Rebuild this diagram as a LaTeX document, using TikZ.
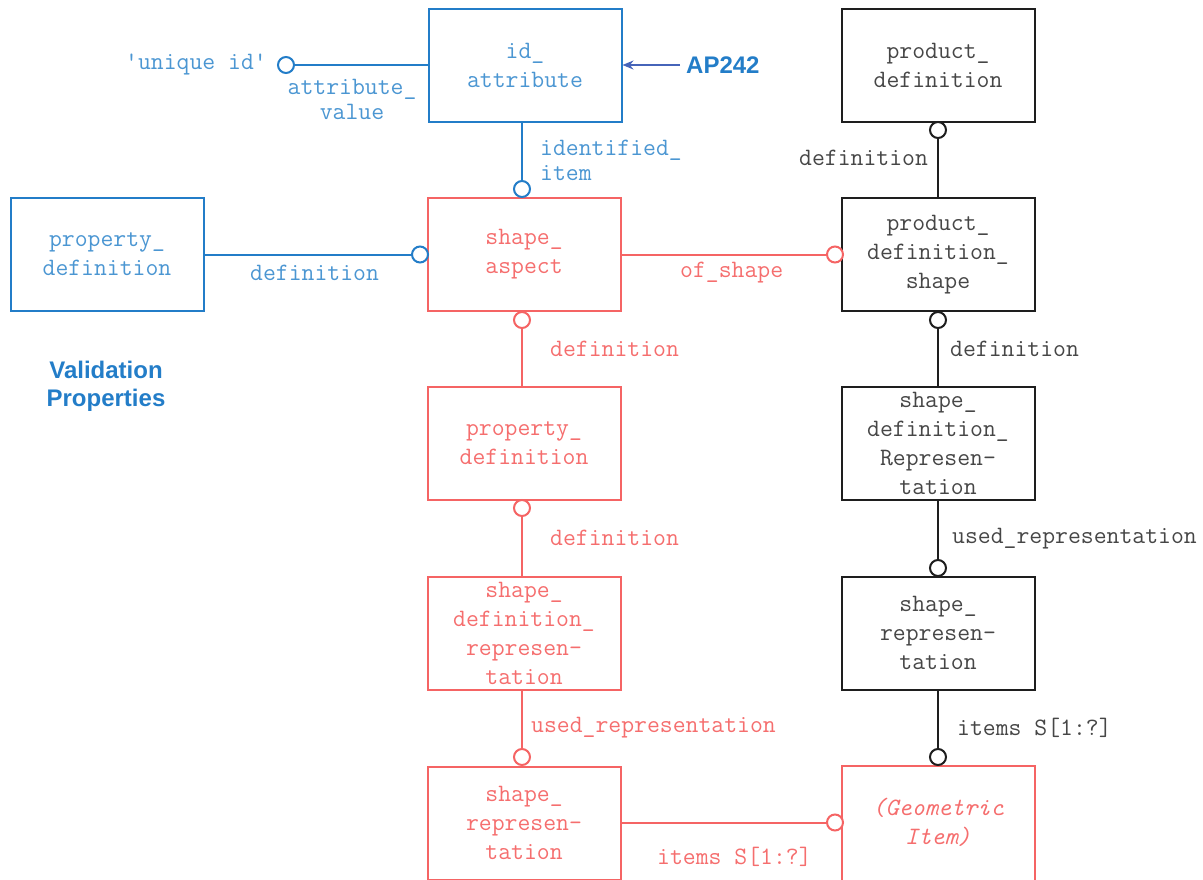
\documentclass[tikz,border=0pt]{standalone}
\usepackage{fontspec}
\setsansfont{Liberation Sans}
\usetikzlibrary{arrows.meta}
\definecolor{bline}{RGB}{35,125,200}
\definecolor{btext}{RGB}{75,150,210}
\definecolor{rline}{RGB}{245,100,100}
\definecolor{rtext}{RGB}{245,110,110}
\definecolor{kline}{RGB}{30,30,30}
\definecolor{ktext}{RGB}{70,70,70}
\definecolor{aline}{RGB}{70,100,185}
\tikzset{
  ent/.style={draw, line width=2pt, minimum width=193pt, minimum height=113pt, inner sep=0pt, align=center, font=\fontsize{25}{29}\selectfont\ttfamily},
  bluebox/.style={ent, draw=bline, text=btext},
  redbox/.style={ent, draw=rline, text=rtext},
  blkbox/.style={ent, draw=kline, text=ktext},
  ring/.style={circle, draw, line width=2pt, fill=white, minimum size=16pt, inner sep=0pt},
  lbl/.style={inner sep=0pt, font=\fontsize{25}{25}\selectfont\ttfamily},
  sans/.style={inner sep=0pt, align=center, font=\fontsize{24}{28}\selectfont\sffamily\bfseries, text=bline},
  conn/.style={line width=2pt}
}
\begin{document}
\begin{tikzpicture}[x=1pt,y=-1pt]
\useasboundingbox (0,0) rectangle (1203,879);
% boxes
\node[bluebox] (ida) at (525,65) {id\_\\attribute};
\node[blkbox] (pd) at (938,65) {product\_\\definition};
\node[bluebox] (bpd) at (107,254.5) {property\_\\definition};
\node[redbox] (sa) at (524,254.5) {shape\_\\aspect};
\node[blkbox] (pds) at (938,254.5) {product\_\\definition\_\\shape};
\node[redbox] (rpd) at (524,443.5) {property\_\\definition};
\node[blkbox] (sdr) at (938,443.5) {shape\_\\definition\_\\Represen-\\tation};
\node[redbox] (rsdr) at (524,633) {shape\_\\definition\_\\represen-\\tation};
\node[blkbox] (ksr) at (938,633) {shape\_\\represen-\\tation};
\node[redbox] (rsr) at (524,823) {shape\_\\represen-\\tation};
\node[redbox, minimum height=125pt] (gi) at (938,828.5) {};
\node[inner sep=0pt, align=center, text=rtext, font=\fontsize{25}{29}\selectfont\ttfamily\itshape] (git) at (938,822.5) {(Geometric\\Item)};
% rings
\node[ring, draw=bline] (c1) at (286,65) {};
\node[ring, draw=bline] (c2) at (522,189) {};
\node[ring, draw=bline] (c3) at (420,254.5) {};
\node[ring, draw=rline] (c4) at (835,254.5) {};
\node[ring, draw=kline] (c5) at (938,130) {};
\node[ring, draw=rline] (c6) at (522,320) {};
\node[ring, draw=kline] (c7) at (938,320) {};
\node[ring, draw=rline] (c8) at (522,508) {};
\node[ring, draw=kline] (c9) at (938,568) {};
\node[ring, draw=rline] (c10) at (522,757) {};
\node[ring, draw=kline] (c11) at (938,757) {};
\node[ring, draw=rline] (c12) at (835,822.5) {};
% connectors
\draw[conn, bline] (c1) -- (ida.west |- c1);
\draw[conn, bline] (ida.south -| c2) -- (c2);
\draw[conn, bline] (bpd.east) -- (c3);
\draw[conn, rline] (sa.east) -- (c4);
\draw[conn, kline] (c5) -- (pds.north);
\draw[conn, rline] (c6) -- (rpd.north -| c6);
\draw[conn, kline] (c7) -- (sdr.north);
\draw[conn, rline] (c8) -- (rsdr.north -| c8);
\draw[conn, kline] (sdr.south) -- (c9);
\draw[conn, rline] (rsdr.south -| c10) -- (c10);
\draw[conn, kline] (ksr.south) -- (c11);
\draw[conn, rline] (rsr.east |- c12) -- (c12);
\coordinate (apstart) at (680,65);
\draw[line width=1.6pt, aline, -{Stealth[length=11pt,width=9pt]}] (apstart) -- (ida.east);
% labels
\node[lbl, text=btext, anchor=east] (l1) at (267,65) {'unique id'};
\node[lbl, text=btext, align=center] (l2) at (352,99) {attribute\_\\value};
\node[lbl, text=btext, align=left, anchor=west] (l3) at (540,160) {identified\_\\item};
\node[sans, anchor=west] (l4) at (686,65) {AP242};
\node[lbl, text=btext, anchor=west] (l5) at (250,273) {definition};
\node[sans] (l6) at (106,386) {Validation\\Properties};
\node[lbl, text=rtext, anchor=west] (l7) at (680,273) {of\_shape};
\node[lbl, text=ktext, anchor=west] (l8) at (799,158) {definition};
\node[lbl, text=rtext, anchor=west] (l9) at (550,349) {definition};
\node[lbl, text=ktext, anchor=west] (l10) at (950,349) {definition};
\node[lbl, text=rtext, anchor=west] (l11) at (550,538) {definition};
\node[lbl, text=ktext, anchor=west] (l12) at (952,539) {used\_representation};
\node[lbl, text=rtext, anchor=west] (l13) at (531,728) {used\_representation};
\node[lbl, text=ktext, anchor=west] (l14) at (957,728) {items S[1:?]};
\node[lbl, text=rtext, anchor=west] (l15) at (657,857) {items S[1:?]};
\end{tikzpicture}
\end{document}
